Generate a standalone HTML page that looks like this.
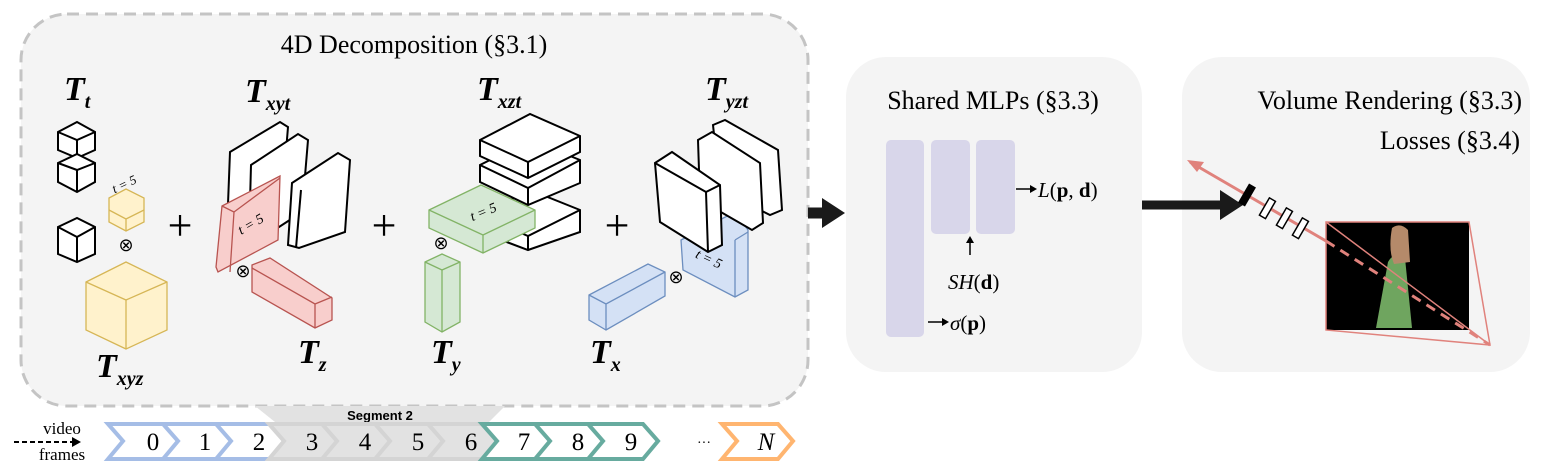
<!DOCTYPE html>
<html><head><meta charset="utf-8"><style>
html,body{margin:0;padding:0;background:#fff;}
svg{display:block;}
text{font-family:"Liberation Serif",serif;}
.m{font-style:italic;font-weight:bold;}
</style></head><body>
<svg width="1546" height="476" viewBox="0 0 1546 476" xmlns="http://www.w3.org/2000/svg">
<!-- panels -->
<rect x="21" y="14" width="787" height="392" rx="46" fill="#f4f4f4" stroke="#c4c4c4" stroke-width="3" stroke-dasharray="12,7"/>
<rect x="846" y="57" width="296" height="315" rx="40" fill="#f4f4f4"/>
<rect x="1182" y="57" width="348" height="315" rx="40" fill="#f4f4f4"/>
<text x="414" y="53" font-size="26" text-anchor="middle">4D Decomposition (§3.1)</text>
<text x="993" y="109" font-size="26" text-anchor="middle">Shared MLPs (§3.3)</text>
<text x="1522" y="109" font-size="26" text-anchor="end">Volume Rendering (§3.3)</text>
<text x="1520" y="149" font-size="26" text-anchor="end">Losses (§3.4)</text>

<!-- labels -->
<g font-size="34" class="m">
<text x="64" y="100" class="m">T<tspan font-size="20" dy="8">t</tspan></text>
<text x="245" y="102" class="m">T<tspan font-size="20" dy="8">xyt</tspan></text>
<text x="477" y="100" class="m">T<tspan font-size="20" dy="8">xzt</tspan></text>
<text x="705" y="100" class="m">T<tspan font-size="20" dy="8">yzt</tspan></text>
<text x="96" y="377" class="m">T<tspan font-size="20" dy="8">xyz</tspan></text>
<text x="298" y="363" class="m">T<tspan font-size="20" dy="8">z</tspan></text>
<text x="431" y="363" class="m">T<tspan font-size="20" dy="8">y</tspan></text>
<text x="590" y="363" class="m">T<tspan font-size="20" dy="8">x</tspan></text>
</g>
<g font-size="44" text-anchor="middle"><text x="180" y="240">+</text><text x="384" y="240">+</text><text x="617" y="240">+</text></g>
<g font-size="18" text-anchor="middle"><text x="126" y="251">⊗</text><text x="243" y="277">⊗</text><text x="441" y="249">⊗</text><text x="676" y="283">⊗</text></g>

<!-- Tt small cubes -->
<g fill="#fff" stroke="#000" stroke-width="2">
<polygon points="58,132 77,122 95,132 95,150 77,158 58,150"/><path d="M77,140 L77,158 M58,132 L77,140 L95,132" fill="none"/>
<polygon points="58,163 77,154 95,163 95,182 77,192 58,182"/><path d="M77,170 L77,192 M58,163 L77,170 L95,163" fill="none"/>
<polygon points="58,227 77,218 95,227 95,254 77,262 58,254"/><path d="M77,237 L77,262 M58,227 L77,237 L95,227" fill="none"/>
</g>
<!-- yellow cubes -->
<g fill="#fff2cc" stroke="#d6b656" stroke-width="1.3">
<polygon points="109,198 126,189 144,198 144,222 126,231 109,222"/><path d="M109,210 L126,219 L144,210 M126,219 L126,231" fill="none"/>
<polygon points="86,282 126,262 167,282 167,330 126,349 86,330"/><path d="M86,282 L126,300 L167,282 M126,300 L126,349" fill="none"/>
</g>
<text x="126" y="188" font-size="13" font-style="italic" transform="rotate(-25 126 188)" text-anchor="middle">t = 5</text>

<!-- Txyt white slabs -->
<g fill="#fff" stroke="#000" stroke-width="2">
<polygon points="230,152 280,122 288,127 282,200 232,232 227,230"/>
<polygon points="251,165 298,134 308,140 302,212 253,244 249,240"/>
<polygon points="292,183 338,153 350,160 345,232 299,248 288,245"/>
<path d="M301,190 L296,248" fill="none"/>
</g>
<!-- red -->
<g fill="#f8cecc" stroke="#b85450" stroke-width="1.3">
<polygon points="222,206 280,176 278,240 218,272 216,267"/><path d="M222,206 L234,212 L230,272 M234,212 L280,178" fill="none"/>
<polygon points="252,265 270,258 332,298 332,320 315,328 252,292"/><path d="M252,268 L315,304 L332,297 M315,304 L315,328" fill="none"/>
</g>
<text x="253" y="228" font-size="14" font-style="italic" transform="rotate(-30 253 228)" text-anchor="middle">t = 5</text>

<!-- Txzt -->
<g fill="#fff" stroke="#000" stroke-width="2">
<polygon points="480,215 530,190 580,210 580,232 528,250 480,232"/><path d="M480,215 L528,236 L580,210 M528,236 L528,250" fill="none"/>
<polygon points="480,165 530,140 580,160 580,183 528,205 480,182"/><path d="M480,165 L528,188 L580,160 M528,188 L528,205" fill="none"/>
<polygon points="480,140 530,114 580,136 580,152 528,178 480,156"/><path d="M480,140 L528,162 L580,136 M528,162 L528,178" fill="none"/>
</g>
<g fill="#d5e8d4" stroke="#82b366" stroke-width="1.3">
<polygon points="429,210 481,185 535,210 535,228 483,253 429,228"/><path d="M429,210 L483,235 L535,210 M483,235 L483,253" fill="none"/>
<polygon points="425,262 442,254 460,262 460,322 442,332 425,322"/><path d="M425,262 L442,270 L460,262 M442,270 L442,332" fill="none"/>
</g>
<text x="485" y="216" font-size="14" font-style="italic" transform="rotate(-22 485 216)" text-anchor="middle">t = 5</text>

<!-- Tyzt -->
<g fill="#d4e1f5" stroke="#6c8ebf" stroke-width="1.3">
<polygon points="681,240 735,212 748,230 748,290 735,297 683,270"/><path d="M735,240 L735,297 M735,240 L748,232" fill="none"/>
<polygon points="589,295 648,264 665,272 665,296 606,330 589,320"/><path d="M589,295 L606,304 L665,272 M606,304 L606,330" fill="none"/>
</g>
<text x="707" y="263" font-size="14" font-style="italic" transform="rotate(25 707 263)" text-anchor="middle">t = 5</text>
<g fill="#fff" stroke="#000" stroke-width="2">
<polygon points="713,125 725,120 778,150 782,210 770,215 720,190"/>
<polygon points="698,140 712,132 760,163 763,223 752,230 700,200"/>
<polygon points="655,163 672,152 720,185 722,245 708,252 660,222"/><path d="M655,163 L706,192 L720,185 M706,192 L708,252" fill="none"/>
</g>

<!-- arrows between panels -->
<path d="M808,213 L824,213" stroke="#1a1a1a" stroke-width="11"/>
<polygon points="822,198 845,213 822,228" fill="#1a1a1a"/>
<path d="M1142,205 L1222,205" stroke="#1a1a1a" stroke-width="9"/>
<polygon points="1220,190 1243,205 1220,220" fill="#1a1a1a"/>

<!-- MLPs -->
<g fill="#d8d6ea">
<rect x="886" y="140" width="38" height="197" rx="5"/>
<rect x="931" y="140" width="39" height="94" rx="5"/>
<rect x="976" y="140" width="39" height="94" rx="5"/>
</g>
<g stroke="#000" stroke-width="1.5">
<path d="M1016,189 L1030,189"/><path d="M928,322 L942,322"/><path d="M970,255 L970,242"/>
</g>
<polygon points="1030,185 1037,189 1030,193"/><polygon points="942,318 949,322 942,326"/><polygon points="966,243 970,236 974,243"/>
<text x="1038" y="197" font-size="21"><tspan font-style="italic">L</tspan>(<tspan font-weight="bold">p</tspan>, <tspan font-weight="bold">d</tspan>)</text>
<text x="948" y="289" font-size="21"><tspan font-style="italic">SH</tspan>(<tspan font-weight="bold">d</tspan>)</text>
<text x="950" y="330" font-size="21"><tspan font-style="italic">σ</tspan>(<tspan font-weight="bold">p</tspan>)</text>

<!-- volume rendering -->
<rect x="1326" y="222" width="143" height="108" fill="#000"/>
<path d="M1388,262 Q1395,250 1405,258 L1412,328 L1376,328 Z" fill="#6fa55f"/>
<path d="M1392,228 Q1400,222 1408,230 L1410,262 L1394,264 Q1388,250 1392,228 Z" fill="#b58a6a"/>
<g stroke="#e0827c" fill="none" stroke-width="1.5">
<polygon points="1326,222 1469,222 1490,345 1326,330"/>
<path d="M1326,222 L1490,345" />
</g>
<path d="M1190,162 L1326,241" stroke="#e0827c" stroke-width="3"/>
<path d="M1326,241 L1490,345" stroke="#e0827c" stroke-width="3" stroke-dasharray="10,7"/>
<polygon points="1187,160 1204,162 1197,172" fill="#e0827c"/>
<rect x="1243" y="184" width="8" height="22" fill="#000" transform="rotate(30 1247 195)"/>
<g fill="#fff" stroke="#000" stroke-width="1.5">
<rect x="1264" y="198" width="7" height="20" transform="rotate(30 1267 208)"/>
<rect x="1281" y="208" width="7" height="20" transform="rotate(30 1284 218)"/>
<rect x="1297" y="218" width="7" height="20" transform="rotate(30 1300 228)"/>
</g>

<!-- frames -->
<polygon points="255,406 505,406 485,426 280,426" fill="#e2e2e2"/>
<text x="380" y="420" font-size="13" font-weight="bold" text-anchor="middle" style="font-family:'Liberation Sans',sans-serif">Segment 2</text>
<g stroke-width="4" fill="#fff">
<polygon points="108,424 165,424 180,441 165,459 108,459 123,441" stroke="#a5bde6"/>
<polygon points="163,424 218,424 233,441 218,459 163,459 178,441" stroke="#a5bde6"/>
<polygon points="216,424 271,424 286,441 271,459 216,459 231,441" stroke="#a5bde6"/>
<polygon points="269,424 324,424 339,441 324,459 269,459 284,441" stroke="#d4d4d4" fill="#e2e2e2"/>
<polygon points="322,424 377,424 392,441 377,459 322,459 337,441" stroke="#d4d4d4" fill="#e2e2e2"/>
<polygon points="375,424 430,424 445,441 430,459 375,459 390,441" stroke="#d4d4d4" fill="#e2e2e2"/>
<polygon points="428,424 483,424 498,441 483,459 428,459 443,441" stroke="#d4d4d4" fill="#e2e2e2"/>
<polygon points="482,424 537,424 552,441 537,459 482,459 497,441" stroke="#67ab9f"/>
<polygon points="535,424 590,424 605,441 590,459 535,459 550,441" stroke="#67ab9f"/>
<polygon points="588,424 643,424 658,441 643,459 588,459 603,441" stroke="#67ab9f"/>
<polygon points="722,424 778,424 793,441 778,459 722,459 737,441" stroke="#ffb570"/>
</g>
<g font-size="25" text-anchor="middle">
<text x="153" y="450">0</text><text x="205" y="450">1</text><text x="259" y="450">2</text><text x="312" y="450">3</text><text x="365" y="450">4</text><text x="418" y="450">5</text><text x="471" y="450">6</text><text x="524" y="450">7</text><text x="578" y="450">8</text><text x="631" y="450">9</text>
<text x="766" y="450" font-style="italic">N</text>
<text x="704" y="447" font-size="14">···</text>
</g>
<text x="62" y="434" font-size="17" text-anchor="middle">video</text>
<text x="62" y="460" font-size="17" text-anchor="middle">frames</text>
<path d="M14,442 L72,442" stroke="#000" stroke-width="2" stroke-dasharray="5,3"/>
<polygon points="72,437 81,442 72,447"/>
</svg>
</body></html>
